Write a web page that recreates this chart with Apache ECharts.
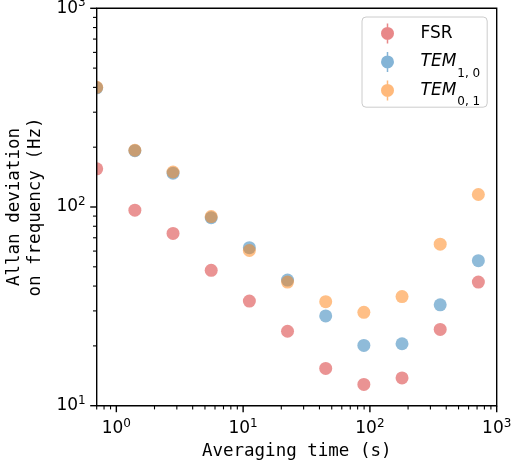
<!DOCTYPE html>
<html><head><meta charset="utf-8">
<script src="https://cdn.jsdelivr.net/npm/echarts@6/dist/echarts.min.js"></script>
<style>html,body{margin:0;padding:0;background:#fff}#c{width:512px;height:468px}</style>
</head><body><div id="c"></div>
<script>
// ---- data ----
const tau   = [0.7, 1.4, 2.8, 5.6, 11.2, 22.4, 44.8, 89.6, 179.2, 358.4, 716.8];
const fsr   = [155.6, 96.4, 73.6, 48.0, 33.6, 23.7, 15.4, 12.8, 13.8, 24.2, 41.9];
const tem10 = [398, 192, 148, 88.3, 62.4, 42.9, 28.3, 20.1, 20.5, 32.2, 53.7];
const tem01 = [400, 193, 150, 89.5, 60.4, 41.9, 33.4, 29.5, 35.4, 65.0, 115.6];
const seriesNames = ['FSR', 'TEM1,0', 'TEM0,1'];
const xMajorTicks = [1, 10, 100, 1000];
const xMinorTicks = [0.7, 0.8, 0.9, 2, 3, 4, 5, 6, 7, 8, 9, 20, 30, 40, 50, 60, 70, 80, 90, 200, 300, 400, 500, 600, 700, 800, 900];
const yMajorTicks = [10, 100, 1000];
const yMinorTicks = [20, 30, 40, 50, 60, 70, 80, 90, 200, 300, 400, 500, 600, 700, 800, 900];
const X_MIN = 0.7, X_MAX = 1000, Y_MIN = 10, Y_MAX = 1000;

const colors = ['#d62728', '#1f77b4', '#ff7f0e'];
const pair = (xs, ys) => xs.map((x, i) => [x, ys[i]]);

function tickSeries(values, dim, len, width) {
  return {
    type: 'custom', silent: true, clip: false, z: 6, animation: false,
    data: values.map(v => dim === 'x' ? [v, Y_MIN] : [X_MIN, v]),
    renderItem: (params, api) => {
      const p = api.coord([api.value(0), api.value(1)]);
      const shape = dim === 'x'
        ? {x1: p[0], y1: p[1], x2: p[0], y2: p[1] + len}
        : {x1: p[0], y1: p[1], x2: p[0] - len, y2: p[1]};
      return {type: 'line', shape, style: {stroke: '#000', lineWidth: width}};
    }
  };
}

function pointSeries(idx, values) {
  const color = colors[idx];
  return {
    name: seriesNames[idx], type: 'custom', clip: true, z: 2, animation: false, silent: true,
    itemStyle: {color: color},
    data: pair(tau, values),
    renderItem: (params, api) => {
      const p = api.coord([api.value(0), api.value(1)]);
      return {type: 'circle', shape: {cx: p[0], cy: p[1], r: 6.5}, style: {fill: color, opacity: 0.5}};
    }
  };
}

const tickRich = {
  b: {fontFamily: 'DejaVu Sans', fontSize: 17, lineHeight: 22, color: '#000'},
  s: {fontFamily: 'DejaVu Sans', fontSize: 12, lineHeight: 12, verticalAlign: 'top', color: '#000'}
};
const tickFmt = v => '{b|10}{s|' + Math.round(Math.log10(v)) + '}';

const legendLabel = {
  'FSR': '{n|FSR}{sub| }',
  'TEM1,0': '{it|TEM}{sub|1, 0}',
  'TEM0,1': '{it|TEM}{sub|0, 1}'
};

const chart = echarts.init(document.getElementById('c'), null, {renderer: 'canvas'});
chart.setOption({
  animation: false,
  backgroundColor: '#fff',
  grid: {left: 96.7, right: 15.3, top: 8.3, bottom: 62.3, show: true, z: 5,
         borderColor: '#000', borderWidth: 1.4, backgroundColor: 'transparent',
         outerBoundsMode: 'none', containLabel: false},
  xAxis: {
    type: 'log', logBase: 10, min: X_MIN, max: X_MAX,
    axisLine: {show: false}, axisTick: {show: false}, splitLine: {show: false}, minorTick: {show: false},
    axisLabel: {showMinLabel: false, margin: 12, formatter: tickFmt, rich: tickRich},
    name: 'Averaging time (s)', nameLocation: 'middle', nameGap: 36,
    nameTextStyle: {fontFamily: 'DejaVu Sans Mono', fontSize: 17.5, color: '#000'}
  },
  yAxis: {
    type: 'log', logBase: 10, min: Y_MIN, max: Y_MAX,
    axisLine: {show: false}, axisTick: {show: false}, splitLine: {show: false}, minorTick: {show: false},
    axisLabel: {margin: 11, formatter: tickFmt, rich: tickRich},
    name: 'Allan deviation\non frequency (Hz)', nameLocation: 'middle', nameGap: 47,
    nameTextStyle: {fontFamily: 'DejaVu Sans Mono', fontSize: 17.5, lineHeight: 21, color: '#000'}
  },
  legend: {
    orient: 'vertical', left: 362, top: 17,
    padding: [-1.1, 7, -0.7, 19], itemGap: -6.5, itemWidth: 20, itemHeight: 20,
    backgroundColor: 'rgba(255,255,255,0.8)', borderColor: '#cccccc', borderWidth: 1, borderRadius: 4,
    icon: 'path://M-0.75,-10 L0.75,-10 L0.75,10 L-0.75,10 Z M6.5,0 A6.5,6.5 0 1 1 -6.5,0 A6.5,6.5 0 1 1 6.5,0 Z',
    itemStyle: {opacity: 0.55},
    data: seriesNames,
    formatter: name => legendLabel[name],
    textStyle: {
      color: '#000',
      rich: {
        n: {fontFamily: 'DejaVu Sans', fontSize: 17, lineHeight: 25, padding: [0, 0, 0, 18], color: '#000'},
        it: {fontFamily: 'DejaVu Sans', fontStyle: 'italic', fontSize: 17, lineHeight: 25, padding: [0, 0, 0, 18], color: '#000'},
        sub: {fontFamily: 'DejaVu Sans', fontSize: 12, lineHeight: 2, padding: [23, 0, 0, 1], color: '#000'}
      }
    }
  },
  series: [
    pointSeries(0, fsr),
    pointSeries(1, tem10),
    pointSeries(2, tem01),
    tickSeries(xMajorTicks, 'x', 6.5, 1.4),
    tickSeries(xMinorTicks, 'x', 3.7, 1.1),
    tickSeries(yMajorTicks, 'y', 6.5, 1.4),
    tickSeries(yMinorTicks, 'y', 3.7, 1.1)
  ]
});
</script>
</body></html>
